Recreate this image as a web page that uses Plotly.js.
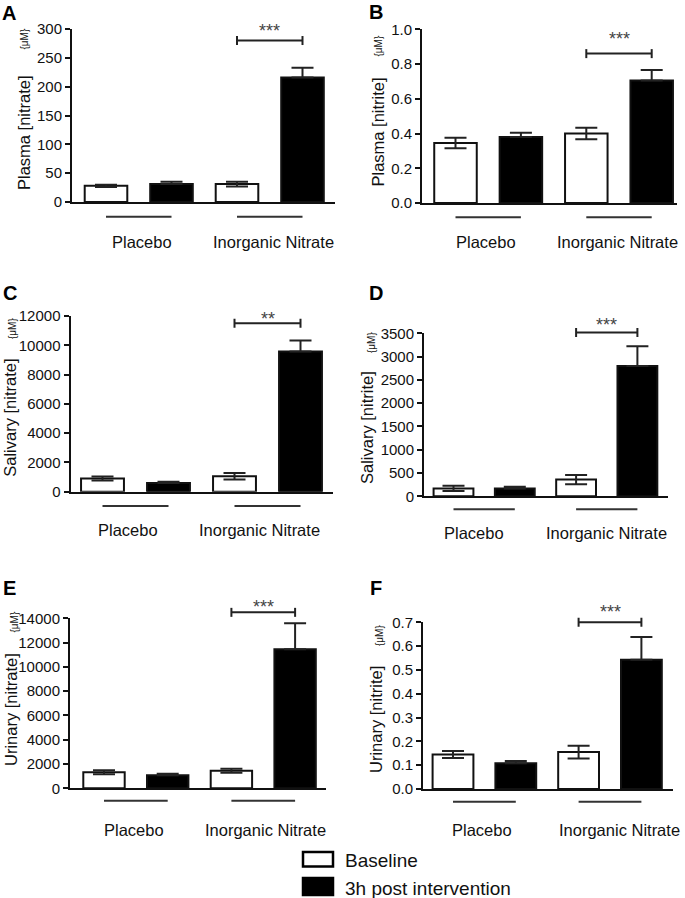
<!DOCTYPE html>
<html>
<head>
<meta charset="utf-8">
<script src="https://cdn.plot.ly/plotly-3.0.1.min.js"></script>
<style>
html,body{margin:0;padding:0;background:#fff;}
#chart{width:685px;height:898px;}
</style>
</head>
<body>
<div id="chart"></div>
<script>
// ---------------- DATA ----------------
const groups = ["Placebo", "Inorganic Nitrate"];
const seriesNames = ["Baseline", "3h post intervention"];
const panelLetters = ["A", "B", "C", "D", "E", "F"];
const yTitles = ["Plasma [nitrate]", "Plasma [nitrite]", "Salivary [nitrate]",
                 "Salivary [nitrite]", "Urinary [nitrate]", "Urinary [nitrite]"];
const unitLabel = "{μM}";
const sigLabels = ["***", "***", "**", "***", "***", "***"];
const sigLevels = [280, 0.86, 11500, 3515, 14490, 0.70];

// values per group [Placebo, Inorganic Nitrate]
const plasmaNitrateBaseline = [28, 31];
const plasmaNitrateBaselineErr = [2, 4];
const plasmaNitratePost = [31, 216];
const plasmaNitratePostErr = [4, 17];

const plasmaNitriteBaseline = [0.345, 0.40];
const plasmaNitriteBaselineErr = [0.03, 0.033];
const plasmaNitritePost = [0.38, 0.705];
const plasmaNitritePostErr = [0.025, 0.06];

const salivaryNitrateBaseline = [900, 1050];
const salivaryNitrateBaselineErr = [140, 220];
const salivaryNitratePost = [590, 9580];
const salivaryNitratePostErr = [90, 750];

const salivaryNitriteBaseline = [170, 360];
const salivaryNitriteBaselineErr = [55, 100];
const salivaryNitritePost = [165, 2800];
const salivaryNitritePostErr = [40, 420];

const urinaryNitrateBaseline = [1320, 1450];
const urinaryNitrateBaselineErr = [170, 170];
const urinaryNitratePost = [1080, 11450];
const urinaryNitratePostErr = [120, 2150];

const urinaryNitriteBaseline = [0.145, 0.155];
const urinaryNitriteBaselineErr = [0.015, 0.027];
const urinaryNitritePost = [0.108, 0.543];
const urinaryNitritePostErr = [0.01, 0.095];

// y axis ticks
const yAxisMax = [300, 1.0, 12000, 3500, 14000, 0.7];
const yAxisStep = [50, 0.2, 2000, 500, 2000, 0.1];
const yTickFormat = ["d", ".1f", "d", "d", "d", ".1f"];

// ---------------- LAYOUT GEOMETRY (pixels) ----------------
const W = 685, H = 898;
const FONT = 'Arial, "Liberation Sans", Helvetica, sans-serif';
// [left, right, top, bottom] of plot areas
const panelBox = [
  [72, 335, 29, 202],
  [422, 677, 29.3, 203],
  [70.5, 333.3, 316, 491.7],
  [424, 668.3, 333.3, 496.3],
  [70, 326, 618.3, 788.3],
  [423, 673.3, 622.3, 789]
];
const barCenter0 = [106, 455.5, 102.5, 453.5, 104, 453];
const barSpacing = [65.5, 65.4, 66, 61.3, 63.7, 62.8];
const underlineOffset = [14.7, 14.3, 14.3, 13, 12.4, 12.7];
const labelOffset = [39.7, 38.7, 38.3, 36.4, 41.7, 41];
const labelShift = [[3, 4], [-2.5, -1.5], [-7.5, -7.75], [-9.7, -0.7], [-2, 2], [-2, 9.5]];
const starOffset = [14, 19, 8, 12, 9, 14];
const titlePos = [[23.5, 132.5], [377, 132.5], [10.5, 418.3], [366.5, 427.5], [11, 710], [376, 720]];
const unitPos = [[24, 39.5], [378, 46.5], [13, 329], [371, 343], [14, 622.5], [379, 635]];
const letterPos = [[9, 13.5], [375.5, 12.5], [10, 293], [376, 293], [9, 588], [375.5, 588]];

const fx = x => x / W;
const fy = y => 1 - y / H;

const panels = [
  {base: plasmaNitrateBaseline, baseErr: plasmaNitrateBaselineErr, post: plasmaNitratePost, postErr: plasmaNitratePostErr},
  {base: plasmaNitriteBaseline, baseErr: plasmaNitriteBaselineErr, post: plasmaNitritePost, postErr: plasmaNitritePostErr},
  {base: salivaryNitrateBaseline, baseErr: salivaryNitrateBaselineErr, post: salivaryNitratePost, postErr: salivaryNitratePostErr},
  {base: salivaryNitriteBaseline, baseErr: salivaryNitriteBaselineErr, post: salivaryNitritePost, postErr: salivaryNitritePostErr},
  {base: urinaryNitrateBaseline, baseErr: urinaryNitrateBaselineErr, post: urinaryNitratePost, postErr: urinaryNitratePostErr},
  {base: urinaryNitriteBaseline, baseErr: urinaryNitriteBaselineErr, post: urinaryNitritePost, postErr: urinaryNitritePostErr}
];

const traces = [], shapes = [], annotations = [];
const layout = {
  width: W, height: H,
  margin: {l: 0, r: 0, t: 0, b: 0},
  paper_bgcolor: '#fff', plot_bgcolor: '#fff',
  barmode: 'overlay',
  showlegend: false,
  font: {family: FONT, color: '#111'}
};

panels.forEach((p, i) => {
  const n = i === 0 ? '' : String(i + 1);
  const xa = 'x' + n, ya = 'y' + n;
  const [l, r, t, b] = panelBox[i];
  const hpx = b - t;
  const c0 = barCenter0[i], sp = barSpacing[i];

  layout['xaxis' + n] = {
    domain: [fx(l), fx(r)], range: [(l - c0) / sp, (r - c0) / sp], anchor: ya,
    showline: true, linewidth: 2, linecolor: '#111', ticks: '', showticklabels: false,
    showgrid: false, zeroline: false, fixedrange: true
  };
  layout['yaxis' + n] = {
    domain: [fy(b), fy(t)], range: [0, yAxisMax[i]], anchor: xa,
    showline: true, linewidth: 2, linecolor: '#111',
    ticks: 'outside', ticklen: 5, tickwidth: 2, tickcolor: '#111',
    tickmode: 'linear', tick0: 0, dtick: yAxisStep[i], tickformat: yTickFormat[i],
    tickfont: {family: FONT, size: 15, color: '#111'},
    showgrid: false, zeroline: false, fixedrange: true
  };

  const baseX = [0, 2], postX = [1, 3];
  traces.push({
    type: 'bar', name: seriesNames[0], x: baseX, y: p.base, xaxis: xa, yaxis: ya, width: 0.65,
    marker: {color: '#ffffff', line: {color: '#111', width: 2}},
    error_y: {type: 'data', array: p.baseErr, visible: true, color: '#222', thickness: 2, width: 11},
    hoverinfo: 'skip'
  });
  traces.push({
    type: 'bar', name: seriesNames[1], x: postX, y: p.post, xaxis: xa, yaxis: ya, width: 0.65,
    marker: {color: '#000000', line: {color: '#111', width: 2}},
    error_y: {type: 'data', symmetric: false, array: p.postErr, arrayminus: p.postErr.map(() => 0),
              visible: true, color: '#222', thickness: 2, width: 11},
    hoverinfo: 'skip'
  });

  // significance bracket between nitrate-group bars
  const f = sigLevels[i] / yAxisMax[i];
  const tk = 4.5 / hpx;
  const yd = ya + ' domain';
  shapes.push({type: 'line', xref: xa, yref: yd, x0: baseX[1], x1: postX[1], y0: f, y1: f, line: {color: '#222', width: 2}});
  shapes.push({type: 'line', xref: xa, yref: yd, x0: baseX[1], x1: baseX[1], y0: f - tk, y1: f + tk, line: {color: '#222', width: 2}});
  shapes.push({type: 'line', xref: xa, yref: yd, x0: postX[1], x1: postX[1], y0: f - tk, y1: f + tk, line: {color: '#222', width: 2}});
  annotations.push({
    xref: xa, yref: yd, x: (baseX[1] + postX[1]) / 2, y: f, yanchor: 'middle', xanchor: 'center',
    yshift: starOffset[i] - 4, text: sigLabels[i], showarrow: false,
    font: {family: FONT, size: 18, color: '#444'}
  });

  // group underlines and labels
  const uy = -underlineOffset[i] / hpx;
  const ly = -labelOffset[i] / hpx;
  groups.forEach((g, k) => {
    shapes.push({type: 'line', xref: xa, yref: yd, x0: baseX[k], x1: postX[k], y0: uy, y1: uy, line: {color: '#333', width: 2}});
    annotations.push({
      xref: xa, yref: yd, x: (baseX[k] + postX[k]) / 2, y: ly, xanchor: 'center', yanchor: 'middle',
      xshift: labelShift[i][k], text: g, showarrow: false,
      font: {family: FONT, size: 16.5, color: '#111'}
    });
  });

  // y title, unit and panel letter
  annotations.push({
    xref: 'paper', yref: 'paper', x: fx(titlePos[i][0]), y: fy(titlePos[i][1]),
    xanchor: 'center', yanchor: 'middle', textangle: -90, text: yTitles[i], showarrow: false,
    font: {family: FONT, size: 16.5, color: '#111'}
  });
  annotations.push({
    xref: 'paper', yref: 'paper', x: fx(unitPos[i][0]), y: fy(unitPos[i][1]),
    xanchor: 'center', yanchor: 'middle', textangle: -90, text: unitLabel, showarrow: false,
    font: {family: FONT, size: 10, color: '#111'}
  });
  annotations.push({
    xref: 'paper', yref: 'paper', x: fx(letterPos[i][0]), y: fy(letterPos[i][1]),
    xanchor: 'center', yanchor: 'middle', text: '<b>' + panelLetters[i] + '</b>', showarrow: false,
    font: {family: FONT, size: 20, color: '#000'}
  });
});

// custom legend
const legendBoxes = [[303, 333, 852, 866.5], [303, 333, 878, 895]];
const legendFill = ['#ffffff', '#000000'];
const legendTextY = [860, 888];
seriesNames.forEach((s, k) => {
  const [x0, x1, y0, y1] = legendBoxes[k];
  shapes.push({type: 'rect', xref: 'paper', yref: 'paper', x0: fx(x0), x1: fx(x1), y0: fy(y1), y1: fy(y0),
    fillcolor: legendFill[k], line: {color: '#000', width: 2.5}});
  annotations.push({xref: 'paper', yref: 'paper', x: fx(343), y: fy(legendTextY[k]), xanchor: 'left', yanchor: 'middle',
    text: s, showarrow: false, font: {family: FONT, size: 19, color: '#111'}});
});

layout.shapes = shapes;
layout.annotations = annotations;

Plotly.newPlot('chart', traces, layout, {staticPlot: true, displayModeBar: false});
</script>
</body>
</html>
